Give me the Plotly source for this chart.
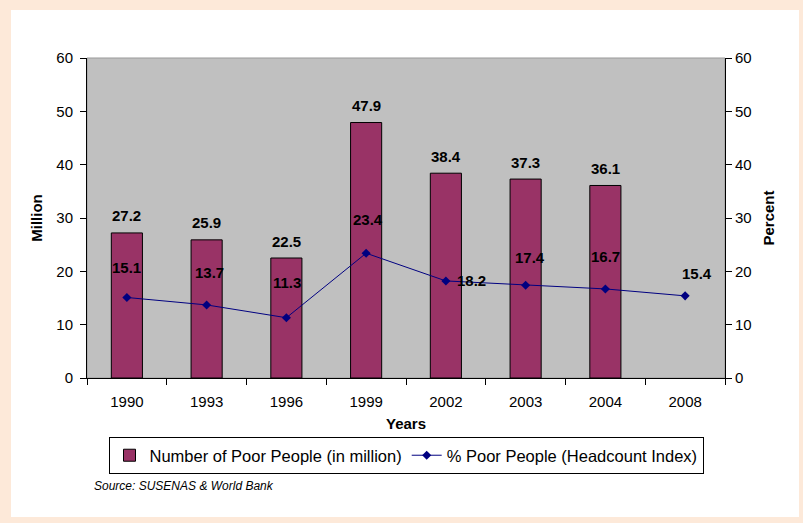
import plotly.graph_objects as go

years = ["1990", "1993", "1996", "1999", "2002", "2003", "2004", "2008"]
poor_million = [27.2, 25.9, 22.5, 47.9, 38.4, 37.3, 36.1, None]
poor_percent = [15.1, 13.7, 11.3, 23.4, 18.2, 17.4, 16.7, 15.4]

# label offsets (pixels) for the percent labels - styling only
pct_xshift = [0, 3, 1, 2, 26, 4, 0, 12]
pct_yshift = [30, 32, 35, 34, 0, 28, 32, 22]

FONT = "Liberation Sans, Arial, sans-serif"
W, H = 803, 523
L, R, T, B = 87, 78, 58, 145
pw, ph = W - L - R, H - T - B

def px_x(x):
    return (x - L) / pw

def px_y(y):
    return (H - B - y) / ph

fig = go.Figure()
fig.add_trace(go.Bar(
    x=years, y=poor_million, name="Number of Poor People (in million)",
    marker=dict(color="#993366", line=dict(color="#000000", width=1)),
    width=0.39, yaxis="y",
))
fig.add_trace(go.Scatter(
    x=years, y=poor_percent, name="% Poor People (Headcount Index)",
    mode="lines+markers", yaxis="y2",
    line=dict(color="#000080", width=1),
    marker=dict(symbol="diamond", size=7, color="#000080"),
))

labelfont = dict(family=FONT, size=15, color="#000000", weight="bold")
annotations = []
for i, v in enumerate(poor_million):
    if v is None:
        continue
    annotations.append(dict(x=i, y=v, xref="x", yref="y", text=f"{v:.1f}",
                            showarrow=False, yshift=17, yanchor="middle",
                            font=labelfont))
for i, (v, dx, dy) in enumerate(zip(poor_percent, pct_xshift, pct_yshift)):
    annotations.append(dict(x=i, y=v, xref="x", yref="y2", text=f"{v:.1f}",
                            showarrow=False, xshift=dx, yshift=dy, yanchor="middle",
                            font=labelfont))
annotations.append(dict(x=px_x(92), y=px_y(486), xref="paper", yref="paper",
                        text="<i>Source: SUSENAS & World Bank</i>", showarrow=False,
                        xanchor="left", yanchor="middle",
                        font=dict(family=FONT, size=12, color="#000000")))

shapes = [
    dict(type="rect", xref="paper", yref="paper", layer="below",
         x0=px_x(11), x1=px_x(799), y0=px_y(517), y1=px_y(10),
         fillcolor="#FFFFFF", line=dict(width=0)),
    dict(type="rect", xref="paper", yref="paper", layer="below",
         x0=0, x1=1, y0=0, y1=1,
         fillcolor="#C0C0C0", line=dict(color="#999999", width=1)),
]

tickfont = dict(family=FONT, size=15, color="#000000")
titlefont = dict(family=FONT, size=15, color="#000000", weight="bold")

fig.update_layout(
    width=W, height=H,
    margin=dict(l=L, r=R, t=T, b=B),
    paper_bgcolor="#FDE9D9",
    plot_bgcolor="rgba(0,0,0,0)",
    font=dict(family=FONT, color="#000000"),
    showlegend=True,
    legend=dict(orientation="h", x=0.5, xanchor="center", y=px_y(437), yanchor="top",
                bgcolor="#FFFFFF", bordercolor="#000000", borderwidth=1,
                font=dict(family=FONT, size=16.5, color="#000000"),
                itemwidth=30, tracegroupgap=0),
    xaxis=dict(type="category", categoryorder="array", categoryarray=years,
               range=[-0.5, len(years) - 0.5], tickson="boundaries", ticks="outside",
               ticklen=6, tickangle=0,
               tickcolor="#000000", showline=True, linecolor="#000000", linewidth=1,
               showgrid=False, tickfont=tickfont, ticklabelstandoff=10,
               title=dict(text="Years", font=titlefont, standoff=9)),
    yaxis=dict(range=[0, 60], dtick=10, ticks="outside", ticklen=6, tickcolor="#000000",
               showline=True, linecolor="#000000", linewidth=1, showgrid=False,
               zeroline=False, tickfont=tickfont, ticklabelstandoff=4,
               title=dict(text="Million", font=titlefont, standoff=10)),
    yaxis2=dict(range=[0, 60], dtick=10, overlaying="y", side="right", ticks="outside",
                ticklen=6, tickcolor="#000000", showline=True, linecolor="#000000",
                linewidth=1, showgrid=False, zeroline=False, tickfont=tickfont,
                title=dict(text="Percent", font=titlefont, standoff=12)),
    annotations=annotations,
    shapes=shapes,
    bargap=0.6,
)

fig.write_html("out.html", config={"displayModeBar": False},
               post_script="document.body.style.margin='0';")
